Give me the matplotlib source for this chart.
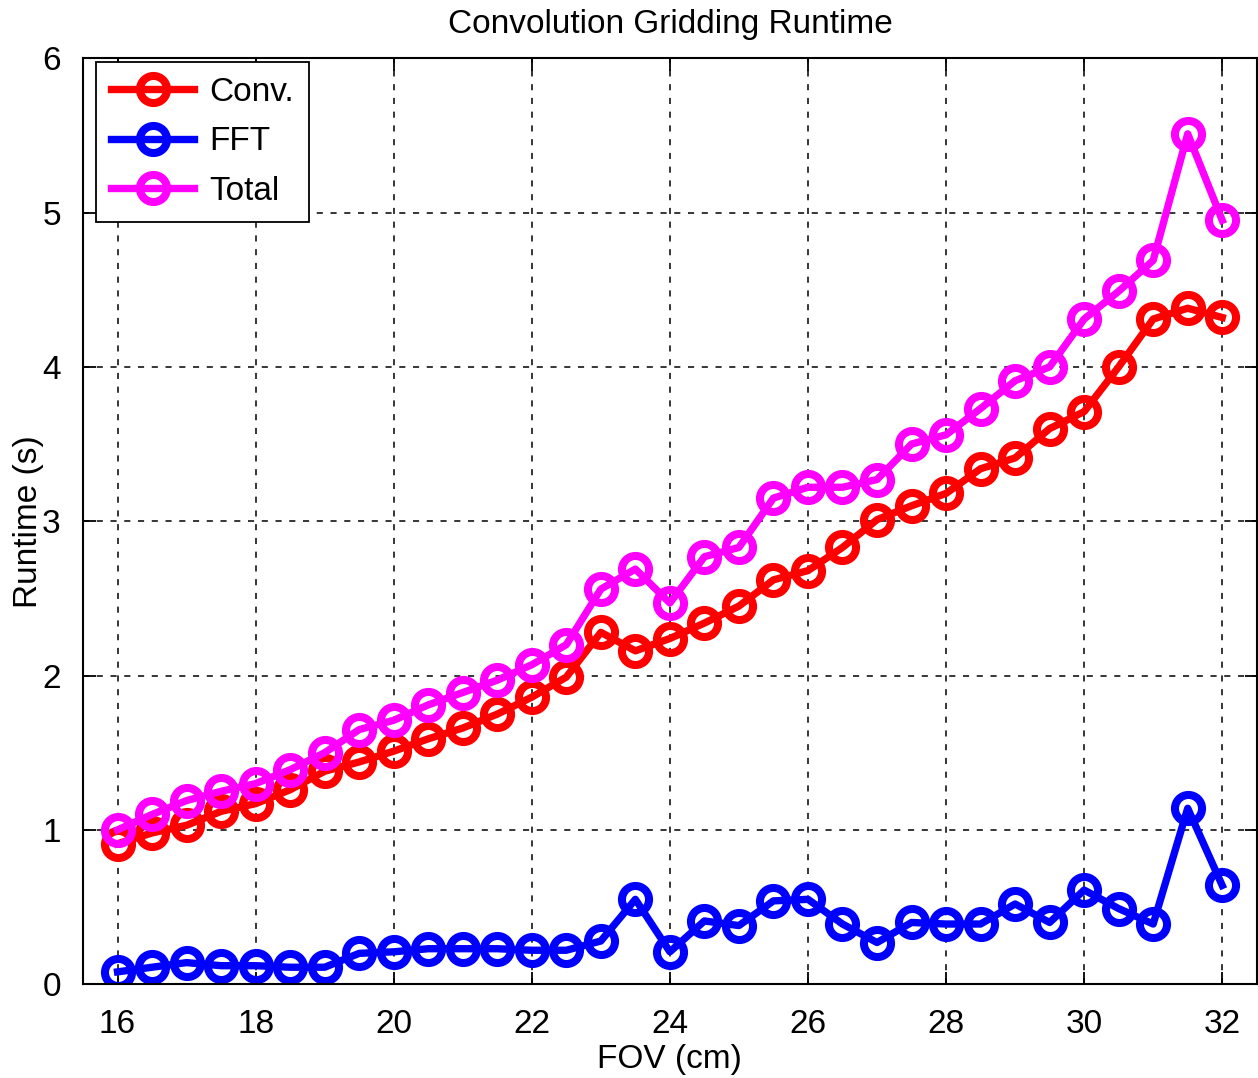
import numpy as np
import matplotlib
matplotlib.use("Agg")
import matplotlib.pyplot as plt

plt.rcParams['font.family'] = ['Liberation Sans', 'DejaVu Sans']

# FOV sweep in cm, half-cm steps
fov = [16, 16.5, 17, 17.5, 18, 18.5, 19, 19.5, 20, 20.5, 21, 21.5, 22, 22.5,
       23, 23.5, 24, 24.5, 25, 25.5, 26, 26.5, 27, 27.5, 28, 28.5, 29, 29.5,
       30, 30.5, 31, 31.5, 32]

conv = [0.91, 0.98, 1.03, 1.12, 1.17, 1.26, 1.38, 1.44, 1.51, 1.59, 1.66, 1.75,
        1.86, 1.99, 2.28, 2.16, 2.24, 2.34, 2.45, 2.62, 2.68, 2.83, 3.01, 3.10,
        3.18, 3.34, 3.41, 3.60, 3.71, 4.00, 4.31, 4.38, 4.32]

fft = [0.08, 0.11, 0.14, 0.12, 0.12, 0.11, 0.11, 0.20, 0.21, 0.23, 0.23, 0.23,
       0.22, 0.22, 0.28, 0.55, 0.21, 0.41, 0.38, 0.54, 0.55, 0.39, 0.27, 0.40,
       0.39, 0.39, 0.52, 0.40, 0.61, 0.49, 0.39, 1.14, 0.64]

total = [1.00, 1.10, 1.19, 1.25, 1.30, 1.39, 1.50, 1.65, 1.71, 1.81, 1.89, 1.97,
         2.07, 2.20, 2.56, 2.69, 2.47, 2.77, 2.83, 3.15, 3.22, 3.22, 3.27, 3.50,
         3.56, 3.73, 3.91, 4.00, 4.31, 4.49, 4.69, 5.51, 4.95]

series = [("Conv.", conv, "#ff0000"), ("FFT", fft, "#0000ff"), ("Total", total, "#ff00ff")]

fs = 24

fig = plt.figure(figsize=(12.58, 10.78), dpi=100)
ax = fig.add_axes([0.066, 0.087, 0.933, 0.859])

for name, vals, c in series:
    ax.plot(fov, vals, color=c, lw=5.3, marker='o', ms=19.5, mfc='none',
            mec=c, mew=5.8, label=name)

ax.set_xlim(15.5, 32.5)
ax.set_ylim(0, 6)
ax.set_xticks(np.arange(16, 33, 2))
ax.set_yticks(np.arange(0, 7, 1))

ax.grid(True, color='black', linestyle=(0, (4, 5)), linewidth=1.1)
ax.tick_params(direction='in', length=9, width=1.3, top=True, right=True,
               labelsize=fs)
ax.tick_params(axis='x', pad=18)
ax.tick_params(axis='y', pad=16)
for s in ax.spines.values():
    s.set_linewidth(1.5)

ax.set_title("Convolution Gridding Runtime", fontsize=fs, pad=18)
ax.set_xlabel("FOV (cm)", fontsize=fs, labelpad=3)
ax.set_ylabel("Runtime (s)", fontsize=fs, labelpad=-1)

leg = ax.legend(loc='upper left', bbox_to_anchor=(0.011, 0.996),
                borderaxespad=0, fontsize=fs, fancybox=False, framealpha=1,
                edgecolor='black', handlelength=2.5, borderpad=0.45,
                labelspacing=0.55, handletextpad=0.45)
leg.get_frame().set_linewidth(1.3)

fig.savefig("out.png", dpi=100)
